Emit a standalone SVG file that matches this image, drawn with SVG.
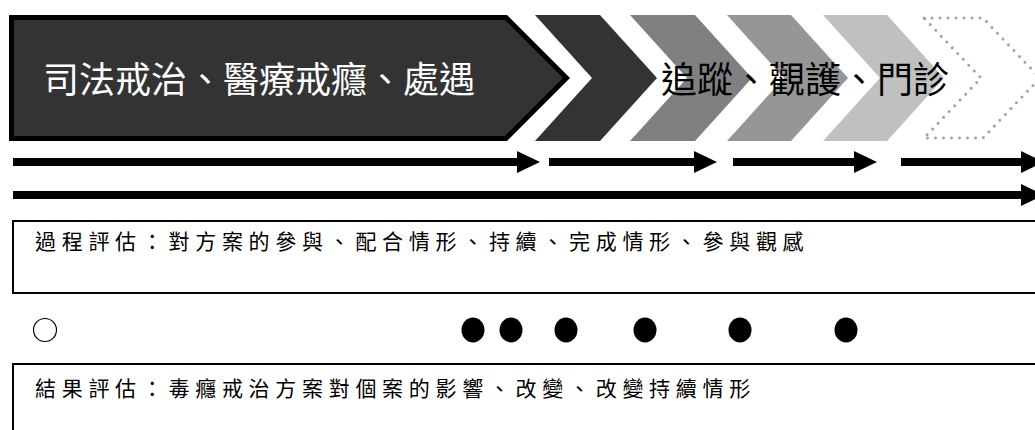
<svg xmlns="http://www.w3.org/2000/svg" width="1035" height="430" viewBox="0 0 1035 430">
<style>
.stage{font-family:"Liberation Serif","Noto Sans CJK TC",serif;font-size:36px}
.note{font-family:"Liberation Serif","Noto Sans CJK TC",serif;font-size:21px;letter-spacing:5.7px;fill:#000}
.conn{stroke:#000;stroke-width:8;fill:none;marker-end:url(#ah)}
.box{fill:#fff;stroke:#000;stroke-width:2}
.dot{fill:#000}
</style>
<defs>
<marker id="ah" markerUnits="userSpaceOnUse" markerWidth="23" markerHeight="22" refX="0" refY="11" orient="auto" overflow="visible">
<path d="M0,0 L23,11 L0,22 z" fill="#000"/>
</marker>
</defs>
<rect width="1035" height="430" fill="#fff"/>

<g id="stage-treatment">
<polygon points="9,15 507,15 570,78 507,141 9,141" fill="#000"/>
<polygon points="14,20 505,20 563,78 505,136 14,136" fill="#333"/>
<text class="stage" x="43" y="93" fill="#fff">司法戒治、醫療戒癮、處遇</text>
</g>

<g id="chevron-1"><polygon points="535,15 600,15 657,78 600,141 535,141 592,78" fill="#333"/></g>
<g id="chevron-2"><polygon points="630,15 695,15 752,78 695,141 630,141 687,78" fill="#808080"/></g>
<g id="chevron-3"><polygon points="727,15 791,15 848,78 791,141 727,141 784,78" fill="#969696"/></g>
<g id="chevron-4"><polygon points="823,15 887,15 944,78 887,141 823,141 880,78" fill="#c0c0c0"/></g>
<g id="chevron-5"><polygon points="924,18 983,18 1040,78 983,138 924,138 981,78" fill="none" stroke="#a0a0a0" stroke-width="3" stroke-dasharray="0 8" stroke-linecap="round"/></g>
<g id="stage-followup">
<text class="stage" x="661" y="93" fill="#000">追蹤、觀護、門診</text>
</g>

<g id="connectors">
<line class="conn" x1="13" y1="162" x2="517" y2="162"/>
<line class="conn" x1="549" y1="162" x2="694" y2="162"/>
<line class="conn" x1="733" y1="162" x2="854" y2="162"/>
<line class="conn" x1="901" y1="162" x2="1021" y2="162"/>
<line class="conn" x1="13" y1="195" x2="1021" y2="195"/>
</g>

<g id="process-evaluation">
<rect class="box" x="13" y="221" width="1040" height="72"/>
<text class="note" x="35" y="249">過程評估：對方案的參與、配合情形、持續、完成情形、參與觀感</text>
</g>

<g id="timeline-dots">
<ellipse cx="45" cy="330" rx="11.5" ry="11.5" fill="#fff" stroke="#000" stroke-width="1.2"/>
<ellipse class="dot" cx="473" cy="330" rx="11.5" ry="12.5"/>
<ellipse class="dot" cx="511" cy="330" rx="11.5" ry="12.5"/>
<ellipse class="dot" cx="566" cy="330" rx="11.5" ry="12.5"/>
<ellipse class="dot" cx="645" cy="330" rx="11.5" ry="12.5"/>
<ellipse class="dot" cx="740" cy="330" rx="11.5" ry="12.5"/>
<ellipse class="dot" cx="846" cy="330" rx="11.5" ry="12.5"/>
</g>

<g id="outcome-evaluation">
<rect class="box" x="13" y="364" width="1040" height="100"/>
<text class="note" x="35" y="396">結果評估：毒癮戒治方案對個案的影響、改變、改變持續情形</text>
</g>
</svg>
